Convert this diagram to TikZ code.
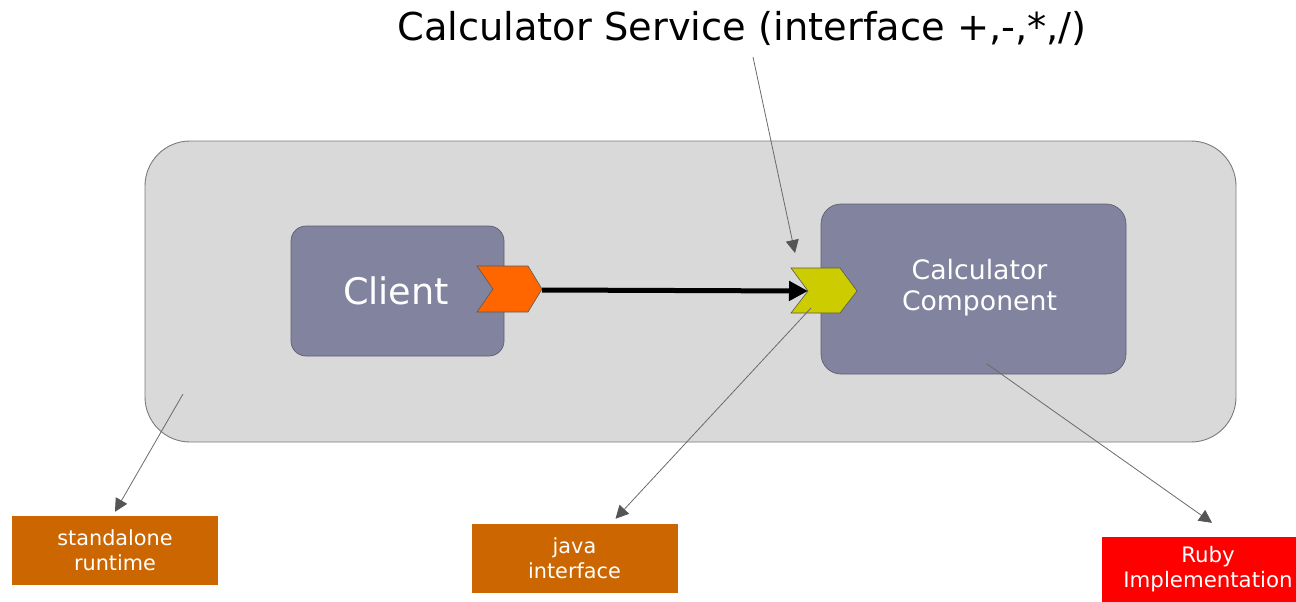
\documentclass[tikz,border=0pt]{standalone}
\usepackage{fontspec}
\setmainfont{DejaVu Sans}
\usetikzlibrary{arrows.meta,calc}
\definecolor{bggray}{HTML}{D9D9D9}
\definecolor{bgline}{HTML}{7A7A7A}
\definecolor{compfill}{RGB}{129,131,159}
\definecolor{compline}{RGB}{95,95,110}
\definecolor{chevorange}{HTML}{FF6600}
\definecolor{chevyellow}{HTML}{CCCC00}
\definecolor{labelorange}{HTML}{CC6600}
\definecolor{labelred}{HTML}{FF0000}
\definecolor{connline}{HTML}{6A6A6A}
\definecolor{connhead}{HTML}{555555}
\tikzset{
  container/.style={draw=bgline, line width=0.9pt, fill=bggray, rounded corners=45pt, minimum width=1091pt, minimum height=301pt, inner sep=0pt},
  component/.style={draw=compline, line width=0.7pt, fill=compfill, text=white, inner sep=0pt, align=center},
  labelbox/.style={fill=labelorange, text=white, minimum width=206pt, minimum height=69pt, inner sep=0pt, align=center, font=\fontsize{20.8}{25}\selectfont},
  conn/.style={draw=connline, line width=0.8pt, -{Triangle[length=13pt,width=13pt,fill=connhead,color=connhead]}},
  wire/.style={draw=black, line width=5pt, -{Triangle[length=19pt,width=19pt]}},
  chev/.style={draw=gray!70!black, line width=0.6pt}
}
\begin{document}
\begin{tikzpicture}[x=1pt,y=-1pt]
\useasboundingbox (0,0) rectangle (1296,602);
% title
\node[font=\fontsize{38.4}{44}\selectfont, anchor=center] (title) at (742,28) {Calculator Service (interface +,-,*,/)};
% container
\node[container] (rt) at (690.5,291.5) {};
% components
\node[component, rounded corners=15pt, minimum width=213pt, minimum height=130pt, font=\fontsize{36.6}{40}\selectfont] (client) at (397.5,291) {\hspace*{-3pt}Client};
\node[component, rounded corners=20pt, minimum width=305pt, minimum height=170pt, font=\fontsize{26.7}{31}\selectfont] (calc) at (973.5,289) {\hspace*{12pt}\raisebox{11pt}{\begin{tabular}{@{}c@{}}Calculator\\Component\end{tabular}}};
% chevrons
\draw[chev, fill=chevorange] (477,266) -- (528,266) -- (542,289) -- (528,312) -- (477,312) -- (493,289) -- cycle;
\coordinate (ref) at (542,290);
\draw[chev, fill=chevyellow] (791,268) -- (840,268) -- (857,291) -- (840,313) -- (791,313) -- (808,291) -- cycle;
\coordinate (srv) at (808,291);
% wire
\draw[wire] (ref) -- (srv);
% label boxes
\node[labelbox] (sa) at (115,550.5) {standalone\\runtime};
\node[labelbox] (jv) at (574.5,558.5) {java\\interface};
\node[labelbox, fill=labelred, minimum width=212pt, minimum height=65pt, font=\fontsize{21.3}{25}\selectfont] (rb) at (1208,569.5) {Ruby\\Implementation};
% connector start points
\coordinate (t0) at (753,57);
\coordinate (t1) at (795,253);
\coordinate (r0) at (183,394);
\coordinate (y0) at (811,308);
\coordinate (c0) at (987,364);
% connectors
\draw[conn] (t0) -- (t1);
\draw[conn] (r0) -- ($(sa.north)+(0,-4)$);
\draw[conn] (y0) -- ($(jv.north)+(41,-5)$);
\draw[conn] (c0) -- ($(rb.north)+(4,-14)$);
\end{tikzpicture}
\end{document}
